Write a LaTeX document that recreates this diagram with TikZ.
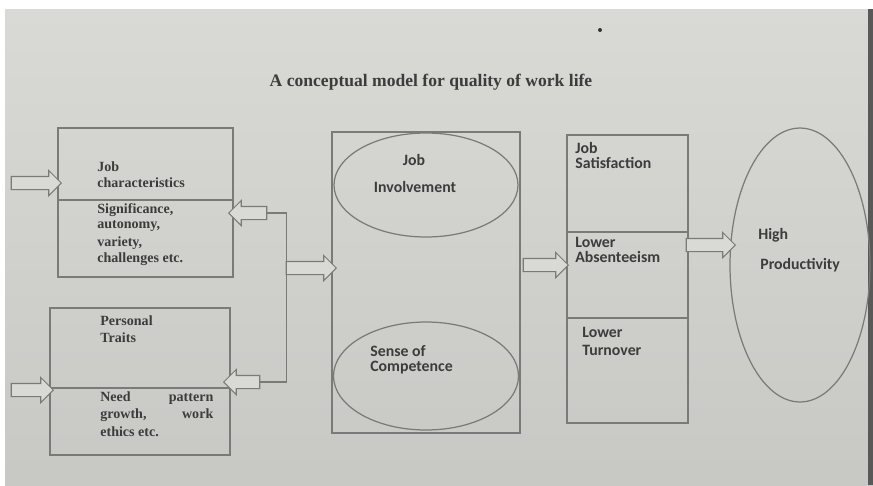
\documentclass[tikz,border=0pt]{standalone}
\usepackage{fontspec}
\setmainfont{Liberation Serif}
\newfontfamily\labelfont{Carlito}
\usetikzlibrary{shapes.geometric,shapes.arrows}
\definecolor{paper}{HTML}{D9DAD6}
\definecolor{ink}{HTML}{3C3C3C}
\definecolor{rule}{HTML}{7A7A78}
\tikzset{
	part/.style={draw=rule, line width=0.7pt, rectangle, inner sep=0pt},
	oval/.style={draw=rule, line width=0.7pt, ellipse, inner sep=0pt},
	blockarrow/.style={draw=rule, fill=paper, line width=0.6pt, single arrow, inner xsep=0pt, inner ysep=0.12cm, single arrow head extend=0.12cm, outer sep=0pt},
	serifbold/.style={anchor=west, inner sep=0pt, text=ink, font=\fontsize{8}{9}\selectfont\bfseries},
	sansbold/.style={anchor=west, inner sep=0pt, text=ink, font=\labelfont\fontsize{9}{10}\selectfont\bfseries}
}
\begin{document}
\begin{tikzpicture}[x=0.02cm, y=-0.02cm]
		\useasboundingbox (0,0) rectangle (873,485);
		\fill[white] (0,0) rectangle (873,485);
		\shade[top color=paper, bottom color=paper!92!black] (5,9) rectangle (873,485);
		\fill[black!65] (868,9) rectangle (873,485);
		\fill[black!80] (600,30) circle (2);
		
		\node[anchor=center, inner sep=0pt, text=ink, font=\fontsize{10}{11}\selectfont\bfseries] (title) at (431,82) {A conceptual model for quality of work life};
		
		\node[part, minimum width=3.5cm, minimum height=1.44cm] (jobchar) at (145.5,164) {};
		\node[part, minimum width=3.5cm, minimum height=1.54cm] (jobsig) at (145.5,238.5) {};
		\node[part, minimum width=3.6cm, minimum height=1.6cm] (traits) at (140,348) {};
		\node[part, minimum width=3.6cm, minimum height=1.34cm] (needs) at (140,421.5) {};
		
		\node[serifbold] (t1) at (97,167) {Job};
		\node[serifbold] (t2) at (97,183) {characteristics};
		\node[serifbold] (t3) at (97,210) {Significance,};
		\node[serifbold] (t4) at (97,226) {autonomy,};
		\node[serifbold] (t5) at (97,243) {variety,};
		\node[serifbold] (t6) at (97,259) {challenges etc.};
		\node[serifbold] (t7) at (100,321) {Personal};
		\node[serifbold] (t8) at (100,338) {Traits};
		\node[serifbold] (t9) at (100,398) {\makebox[2.26cm][s]{Need pattern}};
		\node[serifbold] (t10) at (100,415) {\makebox[2.26cm][s]{growth, work}};
		\node[serifbold] (t11) at (100,432) {ethics etc.};
		
		\node[part, minimum width=3.76cm, minimum height=6.02cm] (core) at (426,282.5) {};
		\node[oval, minimum width=3.68cm, minimum height=2.08cm] (involve) at (426,185) {};
		\node[oval, minimum width=3.7cm, minimum height=2.16cm] (compet) at (426,376) {};
		\node[sansbold, anchor=center] (t12) at (414,160) {Job};
		\node[sansbold, anchor=center] (t13) at (415,187) {Involvement};
		\node[sansbold] (t14) at (370,351) {Sense of};
		\node[sansbold] (t15) at (370,368) {Competence};
		
		\node[part, minimum width=2.42cm, minimum height=1.94cm] (satis) at (627.5,183.5) {};
		\node[part, minimum width=2.42cm, minimum height=1.72cm] (absent) at (627.5,275) {};
		\node[part, minimum width=2.42cm, minimum height=2.1cm] (turnover) at (627.5,370.5) {};
		\node[sansbold] (t16) at (575,148) {Job};
		\node[sansbold] (t17) at (575,163) {Satisfaction};
		\node[sansbold] (t18) at (575,242) {Lower};
		\node[sansbold] (t19) at (575,257) {Absenteeism};
		\node[sansbold] (t20) at (582,332) {Lower};
		\node[sansbold] (t21) at (582,350) {Turnover};
		
		\node[oval, minimum width=2.8cm, minimum height=5.48cm] (product) at (800,265) {};
		\node[sansbold] (t22) at (758,235) {High};
		\node[sansbold] (t23) at (760,265) {Productivity};
		
		\node[blockarrow, minimum height=1cm] (in1) at (33,183) {};
		\node[blockarrow, minimum height=0.84cm] (in2) at (29,390) {};
		\node[blockarrow, minimum height=0.76cm, shape border rotate=180] (fb1) at (251,213) {};
		\node[blockarrow, minimum height=0.72cm, shape border rotate=180] (fb2) at (245,382) {};
		\node[blockarrow, minimum height=1cm] (mid) at (308,268) {};
		\node[blockarrow, minimum height=0.9cm] (out) at (542.5,265) {};
		\node[blockarrow, minimum height=0.98cm] (prod) at (707.5,245) {};
		
		\draw[rule, line width=0.7pt] (fb1.tail) -| (mid.tail) |- (fb2.tail);
		
	\end{tikzpicture}
\end{document}
